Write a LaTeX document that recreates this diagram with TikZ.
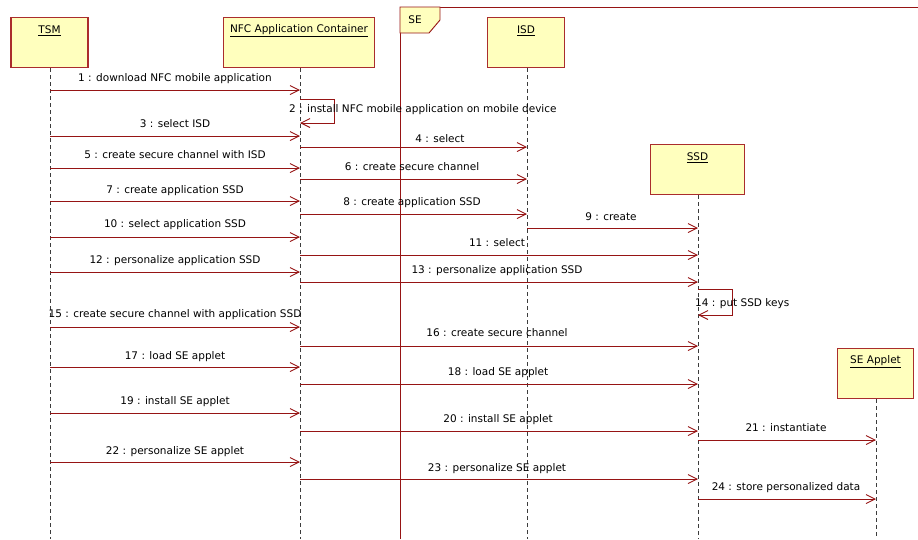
\documentclass[tikz,border=0pt]{standalone}
\usepackage{fontspec}
\setmainfont{DejaVu Sans}
\usetikzlibrary{arrows.meta}
\definecolor{umlred}{RGB}{150,20,20}
\definecolor{umlfill}{RGB}{255,255,190}
\definecolor{umlborder}{RGB}{170,45,45}
\definecolor{lifegray}{RGB}{60,60,60}
\begin{document}
\begin{tikzpicture}[x=1pt,y=-1pt,
  font=\fontsize{10.5}{12}\selectfont,
  headbox/.style={draw=umlborder, line width=1.3pt, fill=umlfill, minimum height=50pt, anchor=north, inner sep=0pt},
  headname/.style={anchor=center, inner sep=0pt},
  lifeline/.style={draw=lifegray, line width=0.9pt, dash pattern=on 4pt off 3pt},
  msg/.style={draw=umlred, line width=0.9pt, -{Straight Barb[length=9pt,width=9pt]}},
  msglabel/.style={anchor=center, inner sep=0pt, text height=8pt, text depth=2pt},
  framebox/.style={draw=umlred, line width=0.9pt}
]
\useasboundingbox (0,0) rectangle (918,539);
\coordinate (bottom) at (0,539);

% SE frame
\draw[framebox] (400,539) -- (400,7) -- (918,7);
\draw[framebox, fill=umlfill] (400,7) -- (440,7) -- (440,20) -- (429,33) -- (400,33) -- cycle;
\node[headname] (setab) at (415,20) {SE};

% lifeline heads
\node[headbox, minimum width=77pt] (tsm) at (49.5,17) {};
\node[headbox, minimum width=151pt] (nfc) at (299,17) {};
\node[headbox, minimum width=77pt] (isd) at (526,17) {};
\node[headbox, minimum width=94pt] (ssd) at (697.5,144) {};
\node[headbox, minimum width=76pt] (sea) at (875.5,348) {};

\node[headname] (tsmname) at ([yshift=-14pt]tsm.north) {\underline{TSM}};
\node[headname] (nfcname) at ([yshift=-14pt]nfc.north) {\underline{NFC Application Container}};
\node[headname] (isdname) at ([yshift=-14pt]isd.north) {\underline{ISD}};
\node[headname] (ssdname) at ([yshift=-14pt]ssd.north) {\underline{SSD}};
\node[headname] (seaname) at ([yshift=-14pt]sea.north) {\underline{SE Applet}};

% lifelines
\coordinate (ltsm) at (50,0);
\coordinate (lnfc) at (300,0);
\coordinate (lisd) at (527,0);
\coordinate (lssd) at (698,0);
\coordinate (lsea) at (876,0);
\draw[lifeline] (ltsm |- tsm.south) -- (ltsm |- bottom);
\draw[lifeline] (lnfc |- nfc.south) -- (lnfc |- bottom);
\draw[lifeline] (lisd |- isd.south) -- (lisd |- bottom);
\draw[lifeline] (lssd |- ssd.south) -- (lssd |- bottom);
\draw[lifeline] (lsea |- sea.south) -- (lsea |- bottom);

% messages
\draw[msg] (ltsm |- 0,90) -- (lnfc |- 0,90);
\node[msglabel] (m1) at (175,78) {1 : download NFC mobile application};

\draw[msg] (lnfc |- 0,99) -- ++(34,0) -- ++(0,24) -- (lnfc |- 0,123);
\node[msglabel, anchor=west] (m2) at (289,109) {2 : install NFC mobile application on mobile device};

\draw[msg] (ltsm |- 0,136) -- (lnfc |- 0,136);
\node[msglabel] (m3) at (175,124) {3 : select ISD};

\draw[msg] (lnfc |- 0,147) -- (lisd |- 0,147);
\node[msglabel] (m4) at (440,139) {4 : select};

\draw[msg] (ltsm |- 0,168) -- (lnfc |- 0,168);
\node[msglabel] (m5) at (175,155) {5 : create secure channel with ISD};

\draw[msg] (lnfc |- 0,179) -- (lisd |- 0,179);
\node[msglabel] (m6) at (412,167) {6 : create secure channel};

\draw[msg] (ltsm |- 0,201) -- (lnfc |- 0,201);
\node[msglabel] (m7) at (175,190) {7 : create application SSD};

\draw[msg] (lnfc |- 0,214) -- (lisd |- 0,214);
\node[msglabel] (m8) at (412,202) {8 : create application SSD};

\draw[msg] (lisd |- 0,228) -- (lssd |- 0,228);
\node[msglabel] (m9) at (611,217) {9 : create};

\draw[msg] (ltsm |- 0,237) -- (lnfc |- 0,237);
\node[msglabel] (m10) at (175,224) {10 : select application SSD};

\draw[msg] (lnfc |- 0,255) -- (lssd |- 0,255);
\node[msglabel] (m11) at (497,243) {11 : select};

\draw[msg] (ltsm |- 0,272) -- (lnfc |- 0,272);
\node[msglabel] (m12) at (175,260) {12 : personalize application SSD};

\draw[msg] (lnfc |- 0,282) -- (lssd |- 0,282);
\node[msglabel] (m13) at (497,270) {13 : personalize application SSD};

\draw[msg] (lssd |- 0,289) -- ++(34,0) -- ++(0,26) -- (lssd |- 0,315);
\node[msglabel, anchor=west] (m14) at (695,303) {14 : put SSD keys};

\draw[msg] (ltsm |- 0,327) -- (lnfc |- 0,327);
\node[msglabel] (m15) at (175,314) {15 : create secure channel with application SSD};

\draw[msg] (lnfc |- 0,346) -- (lssd |- 0,346);
\node[msglabel] (m16) at (497,333) {16 : create secure channel};

\draw[msg] (ltsm |- 0,367) -- (lnfc |- 0,367);
\node[msglabel] (m17) at (175,356) {17 : load SE applet};

\draw[msg] (lnfc |- 0,384) -- (lssd |- 0,384);
\node[msglabel] (m18) at (498,372) {18 : load SE applet};

\draw[msg] (ltsm |- 0,413) -- (lnfc |- 0,413);
\node[msglabel] (m19) at (175,401) {19 : install SE applet};

\draw[msg] (lnfc |- 0,431) -- (lssd |- 0,431);
\node[msglabel] (m20) at (498,419) {20 : install SE applet};

\draw[msg] (lssd |- 0,440) -- (lsea |- 0,440);
\node[msglabel] (m21) at (786,428) {21 : instantiate};

\draw[msg] (ltsm |- 0,462) -- (lnfc |- 0,462);
\node[msglabel] (m22) at (175,451) {22 : personalize SE applet};

\draw[msg] (lnfc |- 0,479) -- (lssd |- 0,479);
\node[msglabel] (m23) at (497,468) {23 : personalize SE applet};

\draw[msg] (lssd |- 0,499) -- (lsea |- 0,499);
\node[msglabel] (m24) at (786,487) {24 : store personalized data};
\end{tikzpicture}
\end{document}
